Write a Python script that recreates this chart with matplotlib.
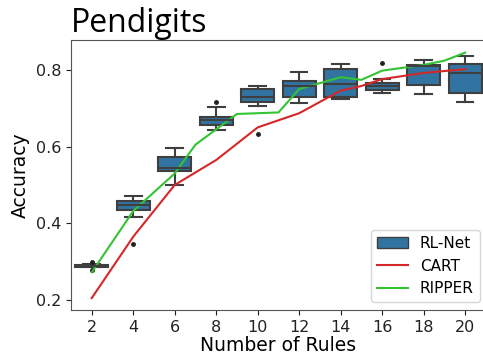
import numpy as np
import matplotlib
matplotlib.use("Agg")
import matplotlib.pyplot as plt
from matplotlib.patches import Patch
from matplotlib.lines import Line2D

# RL-Net boxplot summaries, one per rule count
rules = [2, 4, 6, 8, 10, 12, 14, 16, 18, 20]
med = [0.289, 0.448, 0.544, 0.668, 0.729, 0.757, 0.763, 0.757, 0.810, 0.793]
q1 = [0.287, 0.435, 0.537, 0.655, 0.717, 0.730, 0.729, 0.748, 0.761, 0.739]
q3 = [0.292, 0.459, 0.574, 0.677, 0.750, 0.771, 0.802, 0.765, 0.813, 0.816]
whislo = [0.285, 0.416, 0.500, 0.642, 0.706, 0.713, 0.724, 0.739, 0.737, 0.717]
whishi = [0.294, 0.471, 0.596, 0.704, 0.757, 0.794, 0.816, 0.777, 0.825, 0.837]
fliers = [[0.300, 0.278], [0.346], [], [0.716], [0.634], [], [], [0.819], [], []]

# CART accuracy
cart_rules = [2, 4, 6, 8, 10, 12, 14, 15, 16, 18, 20]
cart_acc = [0.205, 0.365, 0.500, 0.565, 0.650, 0.687, 0.746, 0.758, 0.776, 0.792, 0.802]

# RIPPER accuracy
ripper_rules = [2, 4, 6, 7, 8, 9, 11, 12, 14, 15, 16, 18, 19, 20]
ripper_acc = [0.272, 0.432, 0.530, 0.605, 0.645, 0.685, 0.689, 0.750, 0.781, 0.774, 0.798, 0.813, 0.824, 0.845]

box_color = "#3274a1"
edge = "#3f3f3f"

fig = plt.figure(figsize=(4.83, 3.6), dpi=100)
ax = fig.add_axes([0.147, 0.139, 0.859, 0.75])

stats = []
for i in range(len(rules)):
    stats.append(dict(med=med[i], q1=q1[i], q3=q3[i], whislo=whislo[i],
                      whishi=whishi[i], fliers=fliers[i]))
pos = [(r - 2) / 2 for r in rules]
ax.bxp(stats, positions=pos, widths=0.8, patch_artist=True,
       boxprops=dict(facecolor=box_color, edgecolor=edge, linewidth=1.5),
       medianprops=dict(color=edge, linewidth=1.5),
       whiskerprops=dict(color=edge, linewidth=1.5),
       capprops=dict(color=edge, linewidth=1.5),
       flierprops=dict(marker="o", markersize=2.5, markerfacecolor="#222222",
                       markeredgecolor="#222222"))

ax.plot([(r - 2) / 2 for r in cart_rules], cart_acc, color="#d62728", lw=1.5)
ax.plot([(r - 2) / 2 for r in ripper_rules], ripper_acc, color="#33c433", lw=1.5)

ax.set_xlim(-0.5, 9.5)
ax.set_ylim(0.174, 0.878)
ax.set_xticks(pos)
ax.set_xticklabels([str(r) for r in rules])
ax.set_yticks([0.2, 0.4, 0.6, 0.8])
ax.tick_params(labelsize=11.5, colors="#222222")
for s in ax.spines.values():
    s.set_color("#555555")

ax.set_xlabel("Number of Rules", fontsize=13.5, labelpad=1)
ax.set_ylabel("Accuracy", fontsize=13.5)
ax.set_title("Pendigits", loc="left", fontsize=23, family="Open Sans", pad=1)

handles = [Patch(facecolor=box_color, edgecolor=edge, label="RL-Net"),
           Line2D([], [], color="#d62728", lw=1.5, label="CART"),
           Line2D([], [], color="#33c433", lw=1.5, label="RIPPER")]
ax.legend(handles=handles, loc="lower right", fontsize=11,
          bbox_to_anchor=(1.004, 0.0))

fig.savefig("out.png", dpi=100)
